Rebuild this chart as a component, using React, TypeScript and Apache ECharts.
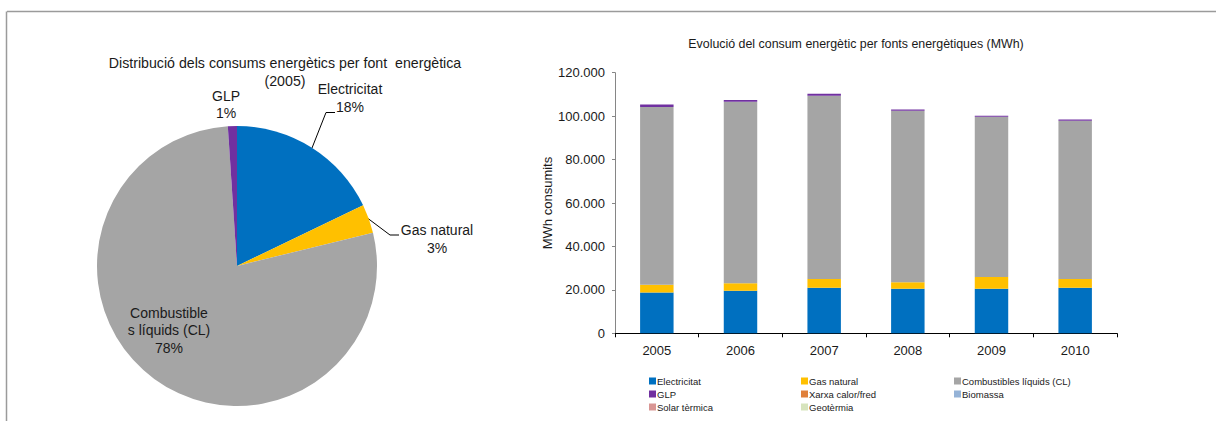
import React, { useEffect, useRef } from 'react';
import * as echarts from 'echarts';

// Energy consumption by source, MWh
const years = ['2005', '2006', '2007', '2008', '2009', '2010'];
const electricitat = [18800, 19600, 21000, 20500, 20500, 21000];
const gasNatural = [3500, 3400, 4000, 3000, 5400, 4000];
const combustiblesLiquids = [81900, 83600, 84400, 79000, 73800, 72900];
const glp = [1100, 800, 900, 500, 500, 500];
const xarxaCalorFred = [0, 0, 0, 0, 0, 0];
const biomassa = [0, 0, 0, 0, 0, 0];
const solarTermica = [0, 0, 0, 0, 0, 0];
const geotermia = [0, 0, 0, 0, 0, 0];

const sourceNames = [
  'Electricitat',
  'Gas natural',
  'Combustibles líquids (CL)',
  'GLP',
  'Xarxa calor/fred',
  'Biomassa',
  'Solar tèrmica',
  'Geotèrmia',
];
const sourceColors = ['#0070C0', '#FFC000', '#A5A5A5', '#7030A0', '#E0803A', '#95B3D7', '#D99694', '#D7E4BD'];
const sourceValues = [electricitat, gasNatural, combustiblesLiquids, glp, xarxaCalorFred, biomassa, solarTermica, geotermia];

// Pie: 2005 share of the four sources in use
const pieYearIndex = 0;
const pieSources = [0, 1, 2, 3];
const pieLabelNames = ['Electricitat', 'Gas natural', 'Combustible\ns líquids (CL)', 'GLP'];

const yMin = 0;
const yMax = 120000;
const yInterval = 20000;

const FONT = '"Liberation Sans", Arial, Helvetica, sans-serif';

// label anchor and leader line per pie slice
const pieLabelLayout: Record<number, { x: number; y: number; line?: number[][] }> = {
  0: { x: 350, y: 98, line: [[312, 148], [326, 112.5], [335, 112.5]] },
  1: { x: 437, y: 239, line: [[368, 218.5], [390, 235], [399, 235]] },
  2: { x: 169, y: 330 },
  3: { x: 226, y: 104.5 },
};

const fmtThousands = (v: number) => String(v).replace(/\B(?=(\d{3})+(?!\d))/g, '.');

export default function App() {
  const ref = useRef<HTMLDivElement>(null);

  useEffect(() => {
    if (!ref.current) return;
    const chart = echarts.init(ref.current, null, { renderer: 'svg' });

    const barSeries = sourceNames.map((name, i) => ({
      name,
      type: 'bar',
      stack: 'total',
      barWidth: '40%',
      itemStyle: { color: sourceColors[i] },
      data: sourceValues[i],
      silent: true,
    }));

    const pieData = pieSources.map((si, k) => ({
      name: sourceNames[si],
      value: sourceValues[si][pieYearIndex],
      itemStyle: { color: sourceColors[si] },
      labelLine: { show: !!pieLabelLayout[k].line },
    }));

    const legendCol = (left: number, names: string[]) => ({
      left,
      top: 376,
      orient: 'vertical',
      selectedMode: false,
      icon: 'rect',
      itemWidth: 7,
      itemHeight: 7,
      itemGap: 3,
      padding: 0,
      textStyle: {
        fontFamily: FONT,
        fontSize: 9.5,
        color: '#1a1a1a',
        lineHeight: 10,
        padding: [0, 0, 0, -4],
      },
      data: names,
    });

    chart.setOption({
      animation: false,
      textStyle: { fontFamily: FONT },
      graphic: [
        { type: 'line', shape: { x1: 7, y1: 11.5, x2: 1216, y2: 11.5 }, style: { stroke: '#9b9b9b', lineWidth: 1.5 } },
        { type: 'line', shape: { x1: 6.5, y1: 11.5, x2: 6.5, y2: 421 }, style: { stroke: '#9b9b9b', lineWidth: 1.5 } },
        {
          type: 'text',
          x: 285,
          y: 72,
          style: {
            text: 'Distribució dels consums energètics per font  energètica\n(2005)',
            align: 'center',
            verticalAlign: 'middle',
            lineHeight: 18,
            font: `14.2px ${FONT}`,
            fill: '#1a1a1a',
          },
        },
        {
          type: 'text',
          x: 856,
          y: 44,
          style: {
            text: 'Evolució del consum energètic per fonts energètiques (MWh)',
            align: 'center',
            verticalAlign: 'middle',
            font: `12.4px ${FONT}`,
            fill: '#1a1a1a',
          },
        },
      ],
      legend: [
        legendCol(649, [sourceNames[0], sourceNames[3], sourceNames[6]]),
        legendCol(801, [sourceNames[1], sourceNames[4], sourceNames[7]]),
        legendCol(954, [sourceNames[2], sourceNames[5]]),
      ],
      grid: { left: 615, right: 99, top: 72.7, bottom: 87.7, containLabel: false },
      xAxis: {
        type: 'category',
        data: years,
        axisLine: { lineStyle: { color: '#000', width: 1 } },
        axisTick: { show: true, length: 4, lineStyle: { color: '#000' } },
        axisLabel: { fontFamily: FONT, fontSize: 13, color: '#1a1a1a', margin: 11 },
      },
      yAxis: {
        type: 'value',
        min: yMin,
        max: yMax,
        interval: yInterval,
        name: 'MWh consumits',
        nameLocation: 'middle',
        nameGap: 58,
        nameRotate: 90,
        nameTextStyle: { fontFamily: FONT, fontSize: 13, color: '#1a1a1a' },
        axisLine: { show: true, lineStyle: { color: '#868686', width: 1 } },
        axisTick: { show: true, length: 3, lineStyle: { color: '#868686' } },
        splitLine: { show: false },
        axisLabel: {
          fontFamily: FONT,
          fontSize: 13,
          color: '#1a1a1a',
          margin: 10,
          formatter: (v: number) => fmtThousands(v),
        },
      },
      series: [
        ...barSeries,
        {
          type: 'pie',
          center: [237, 266],
          radius: 140,
          startAngle: 90,
          clockwise: true,
          silent: true,
          data: pieData,
          label: {
            show: true,
            fontFamily: FONT,
            fontSize: 14,
            lineHeight: 17.5,
            color: '#1a1a1a',
            align: 'center',
            formatter: (p: any) => `${pieLabelNames[p.dataIndex]}\n${Math.round(p.percent)}%`,
          },
          labelLine: { show: true, lineStyle: { color: '#000', width: 1 } },
          labelLayout: (p: any) => {
            const l = pieLabelLayout[p.dataIndex];
            const out: any = { x: l.x, y: l.y, align: 'center', verticalAlign: 'middle' };
            if (l.line) out.labelLinePoints = l.line;
            return out;
          },
        },
      ],
    });

    return () => chart.dispose();
  }, []);

  return (
    <div
      ref={ref}
      style={{ position: 'absolute', left: 0, top: 0, width: 1216, height: 421, background: '#fff' }}
    />
  );
}
